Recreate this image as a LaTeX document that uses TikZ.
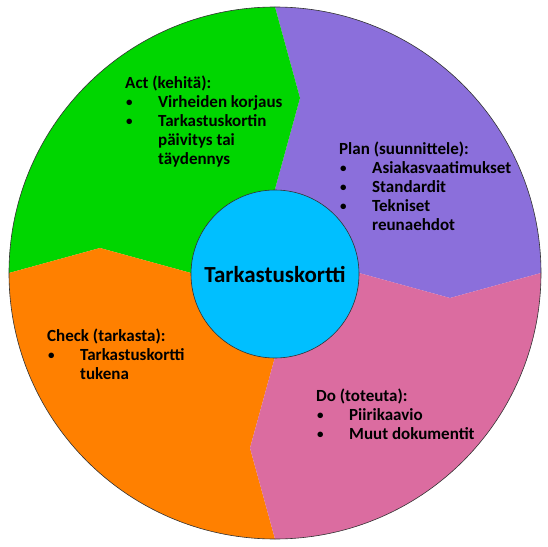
\documentclass[tikz,border=0pt]{standalone}
\usepackage{fontspec}
\setmainfont{Carlito}
\usepackage{xcolor}
\definecolor{pdca-gruen}{HTML}{00D600}
\definecolor{pdca-lila}{HTML}{8B6FDB}
\definecolor{pdca-rosa}{HTML}{DB6CA0}
\definecolor{pdca-orange}{HTML}{FF8000}
\definecolor{pdca-blau}{HTML}{00BFFF}

\newcommand{\punkt}[1]{\makebox[33pt][l]{\hspace{1pt}\raisebox{1pt}{\fontsize{13}{13}\selectfont\textbullet}}#1}
\newcommand{\weiter}[1]{\hspace*{33pt}#1}

\begin{document}
\begin{tikzpicture}[x=1pt, y=1pt,
    feld/.style={font=\bfseries\fontsize{17}{19}\selectfont, align=left, anchor=north west, inner sep=0pt}]
    \useasboundingbox (-275,-273) rectangle (273,273);

    % Segmente mit Pfeilspitzen, am Aussenkreis abgeschnitten
    \begin{scope}
        \clip (0,0) circle (266);
        \foreach \winkel/\farbe in {0/pdca-lila, 90/pdca-gruen, 180/pdca-orange, 270/pdca-rosa} {
            \fill[\farbe, rotate=\winkel]
                (0,0) -- (84,0) -- (175,-25) -- (266,0) -- (320,0) -- (320,320)
                -- (0,320) -- (0,266) -- (25,175) -- (0,84) -- cycle;
        }
    \end{scope}
    \draw[black!80, line width=0.6pt] (0,0) circle (266);

    % Mitte
    \node[circle, draw=black!80, line width=0.6pt, fill=pdca-blau, minimum size=168pt, inner sep=0pt,
        font=\bfseries\fontsize{23}{27}\selectfont] (mitte) at (0,-1) {Tarkastuskortti};

    % Texte der vier Phasen
    \node[feld] (act) at (-150,197) {Act (kehitä):\\
        \punkt{Virheiden korjaus}\\
        \punkt{Tarkastuskortin}\\
        \weiter{päivitys tai}\\
        \weiter{täydennys}};
    \node[feld] (plan) at (64,131) {Plan (suunnittele):\\
        \punkt{Asiakasvaatimukset}\\
        \punkt{Standardit}\\
        \punkt{Tekniset}\\
        \weiter{reunaehdot}};
    \node[feld] (check) at (-228,-56) {Check (tarkasta):\\
        \punkt{Tarkastuskortti}\\
        \weiter{tukena}};
    \node[feld] (do) at (41,-116) {Do (toteuta):\\
        \punkt{Piirikaavio}\\
        \punkt{Muut dokumentit}};
\end{tikzpicture}
\end{document}
